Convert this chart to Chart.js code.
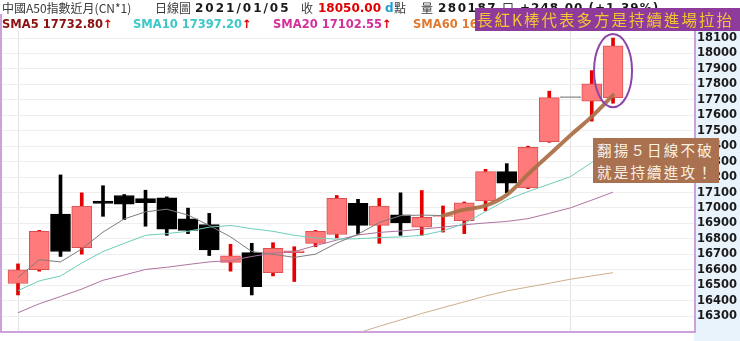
<!DOCTYPE html>
<html><head><meta charset="utf-8">
<script src="https://cdn.jsdelivr.net/npm/chart.js@4.4.1/dist/chart.umd.min.js"></script>
<style>
html,body{margin:0;padding:0;background:#fff;}
#wrap{position:relative;width:740px;height:341px;overflow:hidden;background:#fff;}
#c{position:absolute;left:0;top:0;}
.t{position:absolute;white-space:nowrap;line-height:14px;}
.cjk{font-family:"Noto Sans CJK TC",sans-serif;font-size:12px;color:#3a3a3a;}
.b{font-family:"DejaVu Sans",sans-serif;font-weight:bold;font-size:12px;color:#1a1a1a;}
.s{font-family:"DejaVu Sans",sans-serif;font-weight:bold;font-size:11.5px;}
.arr{color:#e00000;}
#banner{position:absolute;left:475px;top:8px;width:265px;height:23px;background:#8e3c9c;color:#f4c530;
  font-family:"Noto Sans CJK TC",sans-serif;font-size:15.5px;line-height:23px;letter-spacing:2px;padding-left:2px;box-sizing:border-box;white-space:nowrap;}
#note{position:absolute;left:593px;top:138px;width:126px;height:45px;background:#a9714f;color:#fbf1e3;
  font-family:"Noto Sans CJK TC",sans-serif;font-size:14.5px;line-height:22px;letter-spacing:2.2px;padding:1px 0 0 4px;box-sizing:border-box;white-space:nowrap;}
</style>
</head><body>
<div id="wrap">
<canvas id="c" width="740" height="341"></canvas>
<div class="t cjk" style="left:2px;top:1px;">中國A50指數近月(CN*1)</div>
<div class="t cjk" style="left:155px;top:1px;">日線圖</div>
<div class="t b" id="hDate" style="left:195px;top:1px;letter-spacing:2px;"></div>
<div class="t cjk" style="left:301px;top:1px;">收</div>
<div class="t b" id="hClose" style="left:318px;top:1px;color:#e00000;"></div>
<div class="t b" style="left:385px;top:1px;color:#1e9fd6;">d</div>
<div class="t cjk" style="left:394px;top:1px;">點</div>
<div class="t cjk" style="left:421px;top:1px;">量</div>
<div class="t b" id="hVol" style="left:438px;top:1px;letter-spacing:1.5px;"></div>
<div class="t cjk" style="left:502px;top:1px;">口</div>
<div class="t b" id="hChg" style="left:520px;top:1px;letter-spacing:1px;"></div>
<div class="t s" id="hS5" style="left:2px;top:17px;color:#8b1010;"></div>
<div class="t s" id="hS10" style="left:133px;top:17px;color:#3cc8c8;"></div>
<div class="t s" id="hS20" style="left:273px;top:17px;color:#d2309c;"></div>
<div class="t s" id="hS60" style="left:413px;top:17px;color:#e07a30;"></div>
<div id="banner">長紅K棒代表多方是持續進場拉抬</div>
<div id="note">翻揚５日線不破<br>就是持續進攻！</div>
</div>
<script>
// ---- data (index 26 is the Jan 1 holiday, drawn flat at previous close) ----
const dayIndex = [0,1,2,3,4,5,6,7,8,9,10,11,12,13,14,15,16,17,18,19,20,21,22,23,24,25,26,27,28];
const isHoliday = dayIndex.map(i => i === 26);
const openP  = [16511,16600,16961,16743,17045,17081,17060,17066,16929,16893,16648,16711,16581,16710,16771,16828,17030,16887,16956,16876,16945,16918,17045,17235,17129,17429,17714,17692,17714];
const closeP = [16600,16849,16718,17013,17030,17024,17034,16863,16855,16729,16691,16490,16739,16723,16849,17062,16887,17013,16904,16939,16950,17034,17235,17161,17393,17714,17714,17804,18050];
const highP  = [16638,16855,17214,17098,17144,17087,17115,17072,16999,16965,16765,16771,16775,16749,16855,17081,17056,17062,17098,17113,17013,17039,17250,17287,17400,17756,17714,17889,18100];
const lowP   = [16437,16591,16686,16701,16946,16925,16882,16823,16834,16692,16591,16437,16560,16524,16749,16806,16830,16771,16823,16823,16844,16834,16982,17098,17125,17425,17714,17562,17678];
const sma5  = [16550,16665,16651,16735,16844,16929,16975,16992,16954,16887,16813,16718,16701,16680,16701,16773,16830,16906,16950,16954,16951,16989,17015,17085,17218,17344,17471,17591,17730];
const sma10 = [16465,16528,16560,16644,16718,16771,16823,16834,16849,16876,16887,16866,16849,16823,16806,16798,16801,16808,16813,16823,16852,16899,16977,17053,17106,17154,17203,17295,17397];
const sma20 = [16322,16380,16427,16475,16532,16566,16602,16616,16634,16651,16659,16686,16708,16718,16756,16792,16825,16842,16851,16863,16876,16891,16903,16913,16931,16965,17001,17051,17102.55];
const sma60 = [null,null,null,null,null,null,null,null,null,null,null,null,null,null,null,16150,16191,16234,16275,16317,16355,16392,16430,16463,16488,16513,16539,16560,16581];
const trendFrom = 20; // hand-drawn highlight of the 5-day line starts here
const tickValues = [16300,16400,16500,16600,16700,16800,16900,17000,17100,17200,17300,17400,17500,17600,17700,17800,17900,18000,18100];
const monthLines = [0,26];
const headerDate = "2021/01/05", headerClose = "18050.00", headerVol = "280187", headerChg = "+248.00 (+1.39%)";
const smaNames = ["SMA5","SMA10","SMA20","SMA60"];
const smaLast = ["17732.80","17397.20","17102.55","16581.20"];

document.getElementById('hDate').textContent = headerDate;
document.getElementById('hClose').textContent = headerClose;
document.getElementById('hVol').textContent = headerVol;
document.getElementById('hChg').textContent = headerChg;
['hS5','hS10','hS20','hS60'].forEach((id,k)=>{
  document.getElementById(id).innerHTML = smaNames[k]+' '+smaLast[k]+'<span class="arr">↑</span>';
});

const UP_FILL='rgb(255,122,122)', UP_LINE='rgb(222,80,80)', UP_WICK='rgb(228,0,0)', DN='#000', HOL='#8a8a8a';
const upDown = dayIndex.map(i => isHoliday[i] ? 'h' : (closeP[i] >= openP[i] ? 'u' : 'd'));

const bodyData = dayIndex.map(i => ({x:i, y:[openP[i], closeP[i]]}));
const wickData = dayIndex.map(i => ({x:i, y:[lowP[i], highP[i]]}));
const trendData = sma5.map((v,i) => i >= trendFrom ? v : null);

const frame = {
  id:'frame',
  beforeDraw(chart){
    const {ctx, chartArea:a} = chart;
    ctx.save();
    ctx.fillStyle='#ffffff'; ctx.fillRect(0,0,chart.width,chart.height);
    ctx.fillStyle='#e9f3fb'; ctx.fillRect(a.right,14,chart.width-a.right,chart.height-14);
    ctx.restore();
  },
  afterDatasetsDraw(chart){
    const {ctx, scales:{x,y}} = chart;
    const last = dayIndex.length-1;
    const cx = x.getPixelForValue(last);
    const cy = y.getPixelForValue((highP[last]+lowP[last])/2);
    const ry = Math.abs(y.getPixelForValue(highP[last]) - y.getPixelForValue(lowP[last]))/2 + 4;
    ctx.save();
    ctx.strokeStyle='rgb(140,70,170)'; ctx.lineWidth=2;
    ctx.beginPath(); ctx.ellipse(cx, cy, 19, ry, 0, 0, Math.PI*2); ctx.stroke();
    ctx.restore();
  },
  afterDraw(chart){
    const {ctx, chartArea:a} = chart;
    ctx.save();
    ctx.strokeStyle='rgb(205,160,222)'; ctx.lineWidth=2;
    ctx.beginPath();
    ctx.moveTo(a.left-1, 14); ctx.lineTo(a.left-1, a.bottom+1); ctx.lineTo(a.right+1, a.bottom+1); ctx.lineTo(a.right+1, 14);
    ctx.stroke();
    ctx.restore();
  }
};

new Chart(document.getElementById('c'), {
  type:'bar',
  data:{
    datasets:[
      {type:'line', data:trendData.map((v,i)=>({x:i,y:v})), borderColor:'rgba(172,112,72,0.92)', borderWidth:4, pointRadius:0, tension:0.4, borderCapStyle:'round', order:0},
      {type:'line', data:sma5.map((v,i)=>({x:i,y:v})), borderColor:'rgb(125,125,125)', borderWidth:1, pointRadius:0, tension:0, order:1},
      {type:'line', data:sma10.map((v,i)=>({x:i,y:v})), borderColor:'rgb(110,205,185)', borderWidth:1, pointRadius:0, tension:0, order:1},
      {type:'line', data:sma20.map((v,i)=>({x:i,y:v})), borderColor:'rgb(175,115,160)', borderWidth:1, pointRadius:0, tension:0, order:1},
      {type:'line', data:sma60.map((v,i)=>({x:i,y:v})), borderColor:'rgb(205,175,140)', borderWidth:1, pointRadius:0, tension:0, order:1},
      {data:bodyData, grouped:false, barThickness:20, minBarLength:1, borderWidth:1, borderSkipped:false,
        backgroundColor:upDown.map(t=>t==='u'?UP_FILL:(t==='d'?DN:HOL)),
        borderColor:upDown.map(t=>t==='u'?UP_LINE:(t==='d'?DN:HOL)), order:2},
      {data:wickData, grouped:false, barThickness:3, borderWidth:0,
        backgroundColor:upDown.map(t=>t==='u'?UP_WICK:(t==='d'?DN:'rgba(0,0,0,0)')), order:3}
    ]
  },
  options:{
    responsive:false, animation:false, devicePixelRatio:1,
    layout:{padding:{left:2,top:30,bottom:3,right:0}},
    plugins:{legend:{display:false}, tooltip:{enabled:false}},
    scales:{
      x:{type:'linear', min:-0.753, max:31.81, offset:false,
        afterBuildTicks(s){ s.ticks = monthLines.map(v=>({value:v})); },
        afterFit(s){ s.height = 0; },
        ticks:{display:false, autoSkip:false}, border:{display:false},
        grid:{offset:false, color:'#e2e2e2', lineWidth:1, drawTicks:false}},
      y:{type:'linear', position:'right', min:16203, max:18152,
        afterBuildTicks(s){ s.ticks = tickValues.map(v=>({value:v})); },
        afterFit(s){ s.width = 46; },
        border:{display:false},
        grid:{color:'#eeeeee', lineWidth:1, drawTicks:false, tickLength:0},
        ticks:{padding:3, color:'#1a1a1a', font:{family:'DejaVu Sans', weight:'bold', size:11.5}, callback:v=>String(v)}}
    }
  },
  plugins:[frame]
});
</script>
</body></html>
